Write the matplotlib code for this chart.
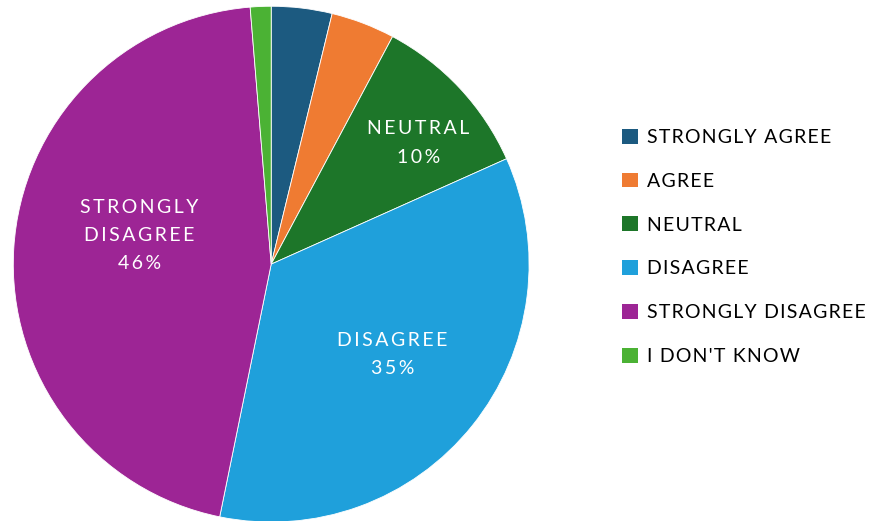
import matplotlib.pyplot as plt
import numpy as np
from matplotlib.patches import Patch

plt.rcParams['font.family'] = ['Lato', 'DejaVu Sans']

categories = ["STRONGLY AGREE", "AGREE", "NEUTRAL", "DISAGREE", "STRONGLY DISAGREE", "I DON'T KNOW"]
values = [3.8, 4.0, 10.5, 34.9, 45.5, 1.3]
colors = ["#1c5a80", "#ef7b32", "#1d7629", "#1fa0db", "#9d2595", "#4bb234"]
# in-slice labels and where they sit (pie radius units)
inner_labels = [None, None, "NEUTRAL\n10%", "DISAGREE\n35%", "STRONGLY\nDISAGREE\n46%", None]
label_pos = [None, None, (0.57, 0.47), (0.47, -0.35), (-0.51, 0.11), None]


def spaced(s, sep="\u200a"):
    # fake letter spacing
    return "\n".join(sep.join(line) for line in s.split("\n"))


fig = plt.figure(figsize=(8.72, 5.21), dpi=100)
ax = fig.add_axes([0.311 - 0.296, 0.493 - 0.495, 0.592, 0.990])

wedges, _ = ax.pie(values, colors=colors, startangle=90, counterclock=False,
                   wedgeprops=dict(edgecolor="white", linewidth=0.6))
ax.set_xlim(-1, 1)
ax.set_ylim(-1, 1)
ax.set_aspect("equal")

for lab, pos in zip(inner_labels, label_pos):
    if lab is None:
        continue
    ax.text(pos[0], pos[1], spaced(lab, "\u2009"), color="white",
            ha="center", va="center", fontsize=14, linespacing=1.8)

handles = [Patch(facecolor=c, edgecolor="none") for c in colors]
fig.legend(handles, [spaced(c) for c in categories], loc="upper left",
           bbox_to_anchor=(0.7135, 0.753), frameon=False, fontsize=14,
           handlelength=0.8, handleheight=0.8, handletextpad=0.5,
           labelspacing=1.37, borderpad=0, borderaxespad=0)

fig.savefig("out.png", dpi=100)
